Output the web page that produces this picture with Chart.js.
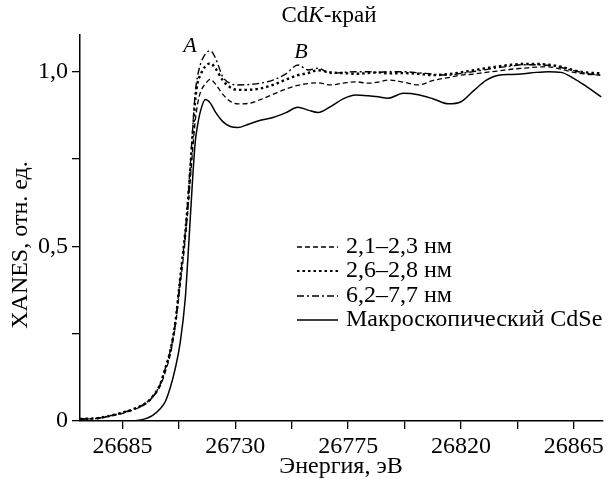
<!DOCTYPE html>
<html>
<head>
<meta charset="utf-8">
<script src="https://cdn.jsdelivr.net/npm/chart.js@4.4.1/dist/chart.umd.min.js"></script>
<style>
  body { margin: 0; background: #fff; }
  #wrap { width: 608px; height: 479px; position: relative; }
</style>
</head>
<body>
<div id="wrap"><canvas id="xanesChart"></canvas></div>
<script>
// Energy grid, eV
const energy = [
  26668, 26675, 26680, 26685, 26690, 26694, 26697, 26700, 26702, 26704,
  26706, 26708, 26710, 26711, 26712, 26713, 26714, 26715, 26716, 26718,
  26720, 26722, 26725, 26728, 26731, 26735, 26740, 26745, 26750, 26755,
  26759, 26763, 26768, 26773, 26778, 26783, 26787, 26791, 26797, 26803,
  26809, 26815, 26820, 26825, 26830, 26835, 26840, 26845, 26850, 26855,
  26860, 26865, 26870, 26876
];

// 2,1–2,3 nm (dashed)
const size21 = [
  0.005, 0.008, 0.014, 0.022, 0.034, 0.048, 0.068, 0.100, 0.140, 0.190,
  0.270, 0.390, 0.520, 0.600, 0.690, 0.780, 0.860, 0.910, 0.940, 0.965,
  0.978, 0.965, 0.935, 0.915, 0.908, 0.909, 0.920, 0.935, 0.950, 0.961,
  0.966, 0.968, 0.962, 0.967, 0.971, 0.967, 0.970, 0.976, 0.970, 0.962,
  0.975, 0.983, 0.990, 0.993, 0.998, 1.002, 1.007, 1.010, 1.013, 1.014,
  1.007, 0.998, 0.993, 0.990
];

// 2,6–2,8 nm (dotted)
const size26 = [
  0.006, 0.008, 0.015, 0.024, 0.036, 0.050, 0.070, 0.105, 0.150, 0.200,
  0.280, 0.410, 0.540, 0.620, 0.720, 0.820, 0.920, 0.970, 0.990, 1.015,
  1.024, 1.010, 0.975, 0.955, 0.948, 0.948, 0.952, 0.962, 0.977, 0.990,
  0.996, 1.004, 0.998, 0.996, 0.994, 0.996, 0.998, 0.995, 0.996, 0.994,
  0.990, 0.993, 0.998, 1.004, 1.010, 1.015, 1.020, 1.022, 1.022, 1.020,
  1.014, 1.004, 0.998, 0.995
];

// 6,2–7,7 nm (dash-dot)
const size62 = [
  0.006, 0.008, 0.015, 0.024, 0.036, 0.050, 0.070, 0.105, 0.150, 0.200,
  0.280, 0.410, 0.540, 0.630, 0.730, 0.840, 0.940, 0.990, 1.020, 1.050,
  1.060, 1.040, 0.985, 0.966, 0.962, 0.963, 0.967, 0.976, 0.993, 1.019,
  1.005, 1.010, 0.995, 0.998, 1.000, 1.000, 0.998, 1.000, 1.000, 0.997,
  0.993, 0.990, 0.995, 1.000, 1.006, 1.012, 1.016, 1.020, 1.020, 1.018,
  1.012, 1.003, 0.995, 0.990
];

// bulk CdSe (solid)
const bulkCdSe = [
  0.000, 0.000, 0.000, 0.000, 0.001, 0.006, 0.016, 0.035, 0.055, 0.095,
  0.150, 0.225, 0.350, 0.460, 0.580, 0.700, 0.800, 0.850, 0.885, 0.920,
  0.910, 0.885, 0.857, 0.843, 0.840, 0.849, 0.861, 0.869, 0.882, 0.898,
  0.890, 0.883, 0.900, 0.922, 0.933, 0.931, 0.928, 0.924, 0.938, 0.934,
  0.922, 0.908, 0.914, 0.945, 0.975, 0.990, 0.992, 0.994, 0.998, 1.000,
  0.998, 0.981, 0.958, 0.928
];

const xMajor = [26685, 26730, 26775, 26820, 26865];
const yTicks = [0, 0.25, 0.5, 0.75, 1.0];
const yTickLabels = ["0", "", "0,5", "", "1,0"];

const seriesNames = ["2,1–2,3 нм", "2,6–2,8 нм", "6,2–7,7 нм", "Макроскопический CdSe"];

const SERIF = "'Liberation Serif', 'Times New Roman', serif";

function pts(vals) {
  return energy.map((e, i) => ({ x: e, y: vals[i] }));
}

const dashes = [[5, 3], [2.5, 3], [7, 3, 2, 3], []];
const widths = [1.3, 2.4, 1.4, 1.5];

const datasets = [size21, size26, size62, bulkCdSe].map((vals, i) => ({
  label: seriesNames[i],
  data: pts(vals),
  borderColor: "#000",
  borderWidth: widths[i],
  borderDash: dashes[i],
  pointRadius: 0,
  fill: false,
  cubicInterpolationMode: "monotone",
}));

// Titles, peak labels and legend drawn on top
const overlay = {
  id: "overlay",
  afterDraw(chart) {
    const ctx = chart.ctx;
    ctx.save();
    ctx.fillStyle = "#000";
    ctx.textBaseline = "middle";

    // title: Cd K-край with italic K
    const parts = [["Cd", ""], ["K", "italic "], ["-край", ""]];
    let total = 0;
    parts.forEach((p) => {
      ctx.font = p[1] + "23px " + SERIF;
      total += ctx.measureText(p[0]).width;
    });
    let tx = 329 - total / 2;
    ctx.textAlign = "left";
    parts.forEach((p) => {
      ctx.font = p[1] + "23px " + SERIF;
      ctx.fillText(p[0], tx, 16);
      tx += ctx.measureText(p[0]).width;
    });

    // peak labels
    ctx.font = "italic 22px " + SERIF;
    ctx.textAlign = "center";
    ctx.fillText("A", 190, 46);
    ctx.fillText("B", 301, 52);

    // axis titles
    ctx.font = "24px " + SERIF;
    ctx.fillText("Энергия, эВ", 341, 467);
    ctx.save();
    ctx.translate(21, 245);
    ctx.rotate(-Math.PI / 2);
    ctx.fillText("XANES, отн. ед.", 0, 0);
    ctx.restore();

    // legend
    const rows = [247, 271, 296, 320];
    ctx.textAlign = "left";
    ctx.font = "24px " + SERIF;
    chart.data.datasets.forEach((ds, i) => {
      ctx.beginPath();
      ctx.lineWidth = i === 1 ? 2.2 : 1.3;
      ctx.setLineDash(ds.borderDash);
      ctx.moveTo(297, rows[i]);
      ctx.lineTo(338, rows[i]);
      ctx.stroke();
      ctx.setLineDash([]);
      ctx.fillText(ds.label, 346, rows[i]);
    });
    ctx.restore();
  },
};

new Chart(document.getElementById("xanesChart").getContext("2d"), {
  type: "line",
  data: { datasets: datasets },
  options: {
    responsive: true,
    maintainAspectRatio: false,
    animation: false,
    layout: { padding: { top: 35, right: 5, left: 0, bottom: 0 } },
    plugins: {
      legend: { display: false },
      tooltip: { enabled: false },
    },
    scales: {
      x: {
        type: "linear",
        min: 26668,
        max: 26876.7,
        afterBuildTicks: (scale) => {
          const t = [];
          xMajor.forEach((v, i) => {
            t.push({ value: v });
            if (i < xMajor.length - 1) t.push({ value: v + 22.5 });
          });
          scale.ticks = t;
        },
        afterFit: (scale) => {
          scale.height = 58;
        },
        ticks: {
          autoSkip: false,
          maxRotation: 0,
          color: "#000",
          padding: 3,
          font: { family: SERIF, size: 24 },
          callback: (v) => (xMajor.includes(v) ? String(v) : ""),
        },
        grid: { drawOnChartArea: false, drawTicks: true, tickLength: 8, color: "#000", lineWidth: 1.3 },
        border: { display: true, color: "#000", width: 1.5 },
      },
      y: {
        min: 0,
        max: 1.105,
        afterBuildTicks: (scale) => {
          scale.ticks = yTicks.map((v) => ({ value: v }));
        },
        afterFit: (scale) => {
          scale.width = 80;
        },
        ticks: {
          autoSkip: false,
          color: "#000",
          padding: 4,
          font: { family: SERIF, size: 24 },
          callback: (v) => yTickLabels[yTicks.indexOf(v)] ?? "",
        },
        grid: { drawOnChartArea: false, drawTicks: true, tickLength: 8, color: "#000", lineWidth: 1.3 },
        border: { display: true, color: "#000", width: 1.5 },
      },
    },
  },
  plugins: [overlay],
});
</script>
</body>
</html>
